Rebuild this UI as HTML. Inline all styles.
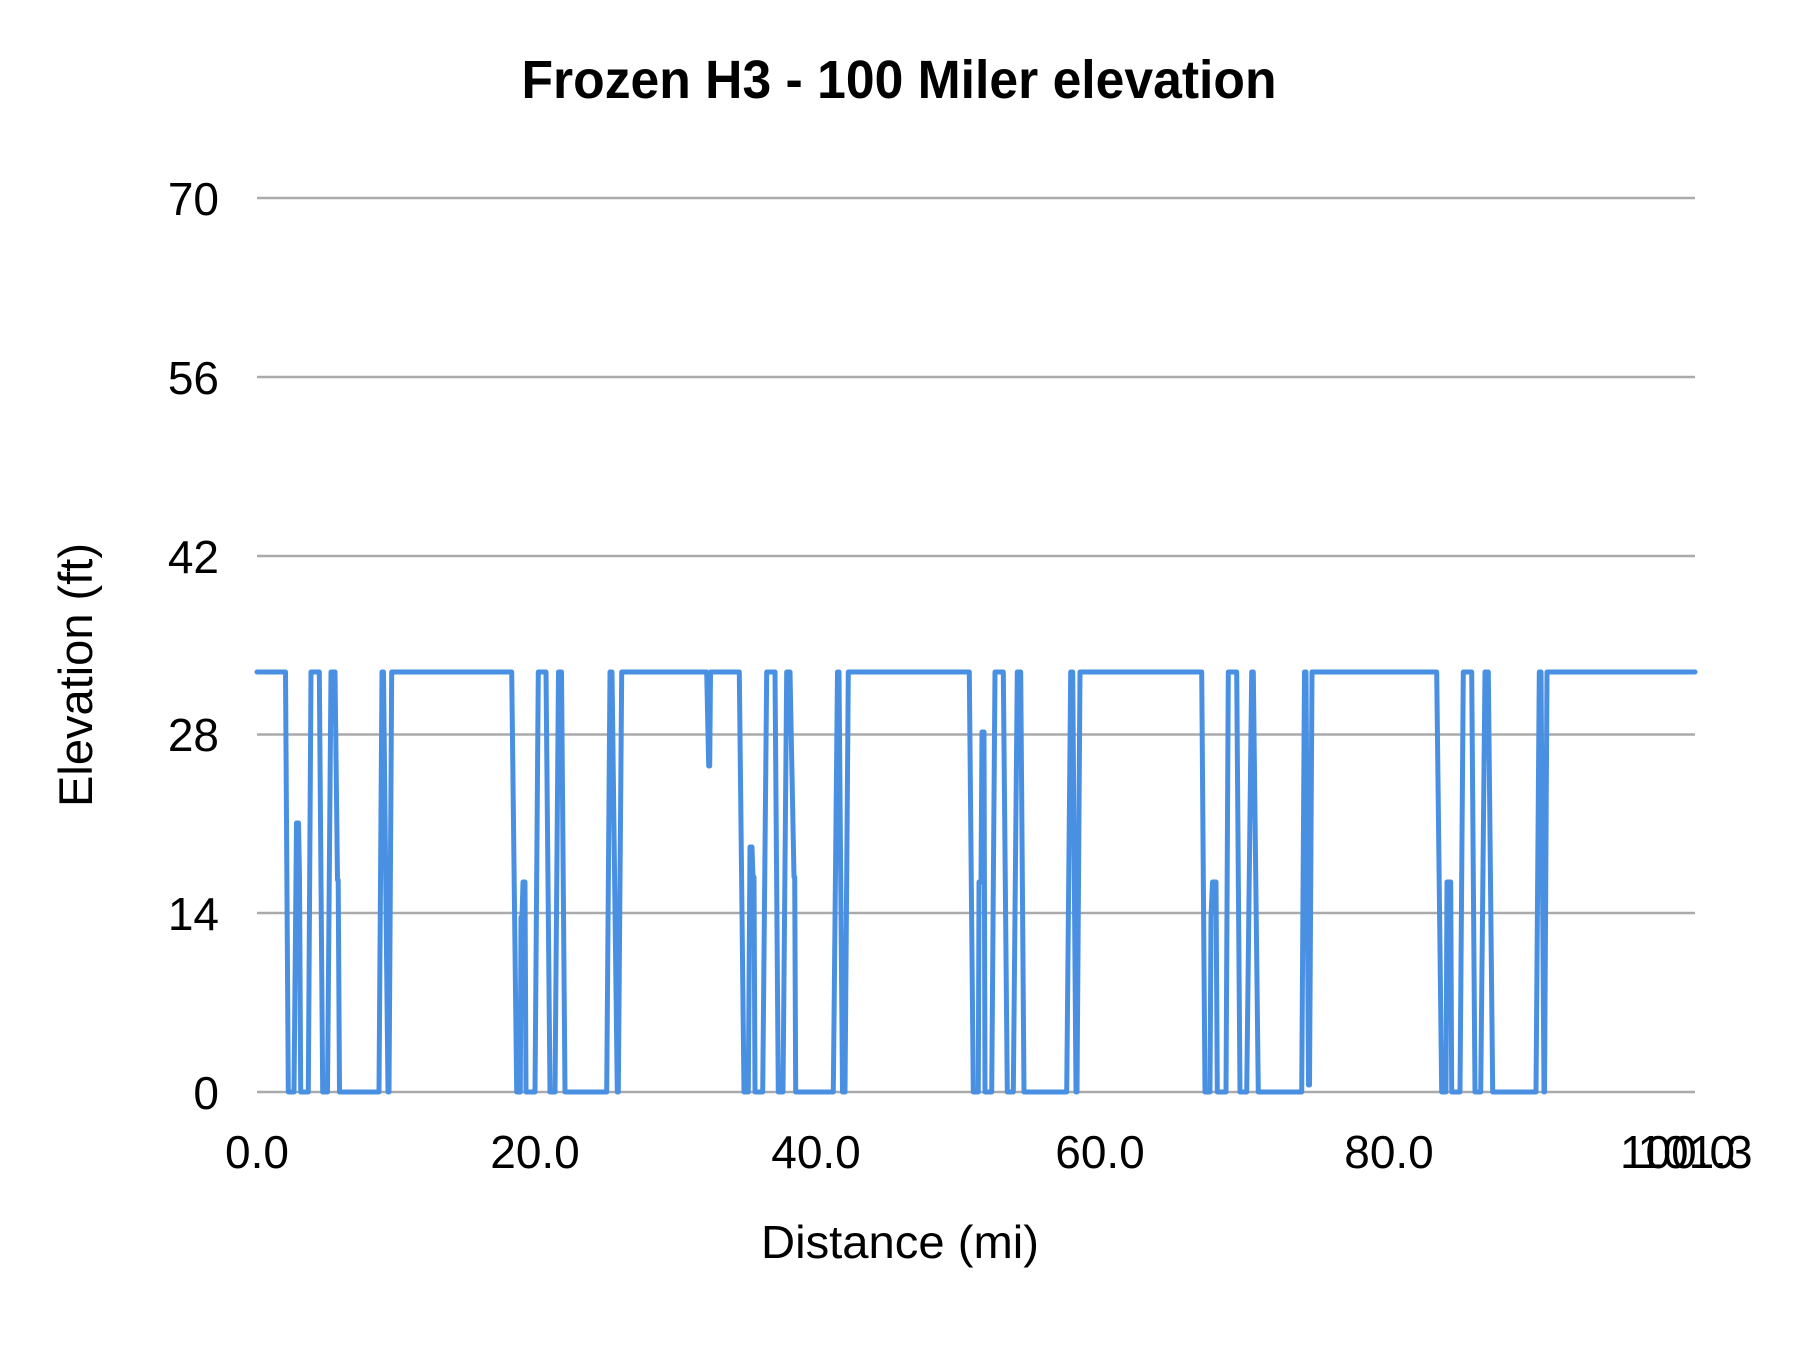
<!DOCTYPE html>
<html>
<head>
<meta charset="utf-8">
<style>
html,body{margin:0;padding:0;background:#fff;}
svg{display:block;}
text{font-family:"Liberation Sans",Arial,sans-serif;fill:#000;}
</style>
</head>
<body>
<svg width="1800" height="1350" viewBox="0 0 1800 1350" xmlns="http://www.w3.org/2000/svg">
<rect x="0" y="0" width="1800" height="1350" fill="#fff"/>
<text x="899" y="98" font-size="54" font-weight="bold" text-anchor="middle" textLength="755" lengthAdjust="spacingAndGlyphs">Frozen H3 - 100 Miler elevation</text>
<g stroke="#aaaaaa" stroke-width="2.5">
<line x1="257" y1="198" x2="1695" y2="198"/>
<line x1="257" y1="377" x2="1695" y2="377"/>
<line x1="257" y1="556" x2="1695" y2="556"/>
<line x1="257" y1="734.5" x2="1695" y2="734.5"/>
<line x1="257" y1="913" x2="1695" y2="913"/>
<line x1="257" y1="1092" x2="1695" y2="1092"/>
</g>
<g font-size="46" text-anchor="end">
<text x="219" y="215">70</text>
<text x="219" y="394">56</text>
<text x="219" y="573">42</text>
<text x="219" y="751">28</text>
<text x="219" y="930">14</text>
<text x="219" y="1109">0</text>
</g>
<g font-size="46" text-anchor="middle">
<text x="257" y="1168">0.0</text>
<text x="535" y="1168">20.0</text>
<text x="816" y="1168">40.0</text>
<text x="1100" y="1168">60.0</text>
<text x="1389" y="1168">80.0</text>
<text x="1677.5" y="1168">100.0</text>
<text x="1695" y="1168">101.3</text>
</g>
<text x="900" y="1258" font-size="46" text-anchor="middle" textLength="278" lengthAdjust="spacingAndGlyphs">Distance (mi)</text>
<text transform="translate(92,675) rotate(-90)" x="0" y="0" font-size="47" text-anchor="middle" textLength="264" lengthAdjust="spacingAndGlyphs">Elevation (ft)</text>
<polyline fill="none" stroke="#4a90e2" stroke-width="5" stroke-linejoin="round" stroke-linecap="round" points="
257,672 285.5,672 288.3,1092 294,1092 296.5,823 298.5,823 299.5,877 300.7,1092 308.3,1092 311,672 319.3,672 322.7,1092 327.5,1092 331,672 335,672 337.5,880 338.2,880 339.5,1092 379,1092 382,672 383.5,672 388,1092 389,1092 391.7,672
511.7,672 516.7,1092 520.3,1092 521,917 522,917 523,882 525,882 526,1092 535,1092 538.3,672 546,672 550,1092 555,1092 558.5,672 561.5,672 565,1092 606.7,1092 610,672 612,672 617.3,1092 618.3,1092 621.7,672
706.7,672 708.7,766 709.7,766 710.5,672
739.3,672 744,1092 748.3,1092 750,847 752,847 753,877 754,877 755,1092 762.7,1092 766.7,672 775,672 778.3,1092 783,1092 786.7,672 790,672 794,877 794.7,877 795.7,1092 833.3,1092 837.5,672 839,672 842.5,1092 845,1092 848.3,672
969.3,672 973.3,1092 978.3,1092 979,882 981,882 982,732 984,732 985,1092 991.7,1092 995,672 1003.3,672 1007.3,1092 1013.3,1092 1017.3,672 1020.7,672 1024,1092 1066.7,1092 1070.7,672 1072.7,672 1076,1092 1077,1092 1080,672
1201.7,672 1205,1092 1210,1092 1211,917 1212.5,882 1216,882 1217.3,1092 1226,1092 1228.3,672 1236.7,672 1240,1092 1246.7,1092 1251.7,672 1253.3,672 1258.3,1092 1301.7,1092 1304.5,672 1306,672 1308.5,1085 1309.5,1085 1312,672
1436.7,672 1441.7,1092 1446,1092 1447,882 1450.7,882 1451.7,1092 1460,1092 1463.3,672 1471.7,672 1475,1092 1480.7,1092 1485,672 1488.3,672 1492.7,1092 1536,1092 1539.3,672 1541,672 1544,1092 1544.5,1092 1547,672 1695,672"/>
</svg>
</body>
</html>
